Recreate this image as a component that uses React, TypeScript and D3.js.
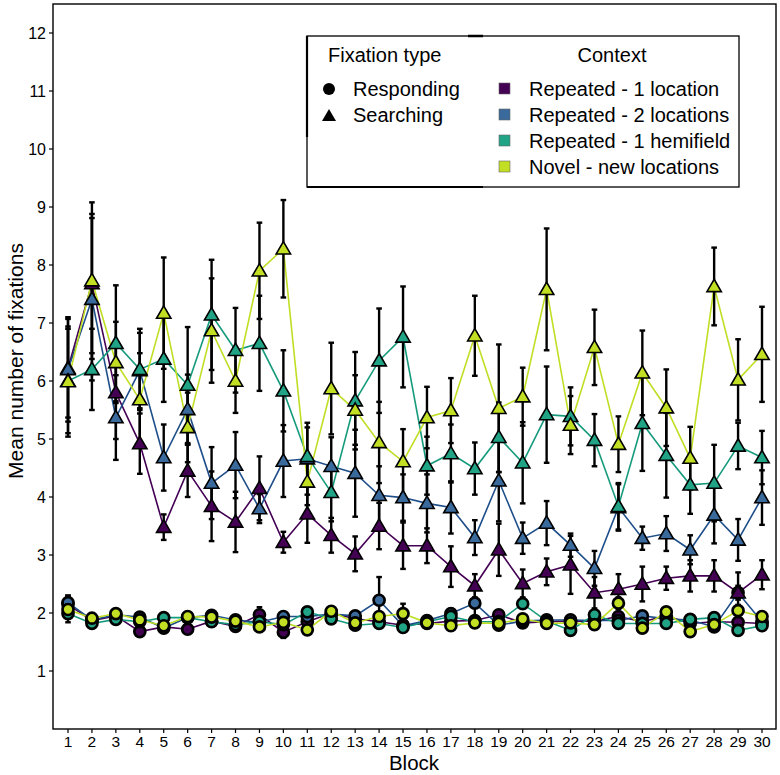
import * as d3 from 'd3';
import React from 'react';

// Blocks 1..30
const blocks: number[] = d3.range(1, 31);

const contexts: string[] = [
    'Repeated - 1 location',
    'Repeated - 2 locations',
    'Repeated - 1 hemifield',
    'Novel - new locations',
];
const fillColors: string[] = ['#440154', '#3a6a9c', '#21a386', '#c2df23'];
const lineColors: string[] = ['#440154', '#1f4f8a', '#169a7c', '#bfdf25'];

// Searching fixations: means and error half-widths, one array per context
const searchRep1: number[] = [6.22, 7.68, 5.8, 4.92, 3.48, 4.45, 3.84, 3.57, 4.15, 3.22, 3.71, 3.34, 3.02, 3.5, 3.16, 3.16, 2.8, 2.47, 3.09, 2.51, 2.71, 2.83, 2.35, 2.41, 2.5, 2.6, 2.64, 2.64, 2.35, 2.66];
const searchRep2: number[] = [6.2, 7.41, 5.37, 6.18, 4.68, 5.51, 4.24, 4.55, 3.8, 4.62, 4.66, 4.53, 4.41, 4.03, 3.99, 3.89, 3.82, 3.3, 4.28, 3.29, 3.55, 3.17, 2.77, 3.82, 3.29, 3.37, 3.09, 3.69, 3.26, 3.99];
const searchHemi: number[] = [6.0, 6.2, 6.65, 6.2, 6.38, 5.93, 7.14, 6.53, 6.65, 5.83, 4.7, 4.08, 5.66, 6.35, 6.76, 4.54, 4.75, 4.49, 5.03, 4.59, 5.42, 5.39, 4.98, 3.84, 5.27, 4.72, 4.21, 4.24, 4.88, 4.68];
const searchNovel: number[] = [5.99, 7.73, 6.32, 5.68, 7.17, 5.2, 6.87, 6.0, 7.9, 8.28, 4.26, 5.87, 5.5, 4.94, 4.61, 5.37, 5.49, 6.78, 5.53, 5.73, 7.58, 5.24, 6.58, 4.91, 6.14, 5.54, 4.67, 7.63, 6.02, 6.46];

const searchErrRep1: number[] = [0.85, 1.2, 0.8, 0.52, 0.22, 0.45, 0.6, 0.52, 0.55, 0.18, 0.5, 0.3, 0.3, 0.4, 0.4, 0.3, 0.35, 0.2, 0.45, 0.24, 0.23, 0.5, 0.27, 0.26, 0.3, 0.2, 0.27, 0.27, 0.35, 0.25];
const searchErrRep2: number[] = [0.9, 1.4, 0.73, 0.65, 0.57, 0.6, 0.62, 0.57, 0.25, 0.62, 0.62, 0.5, 0.75, 0.5, 0.4, 0.5, 0.45, 0.3, 0.7, 0.27, 0.38, 0.2, 0.3, 0.4, 0.2, 0.3, 0.25, 0.49, 0.36, 0.47];
const searchErrHemi: number[] = [0.9, 0.7, 1.0, 0.7, 0.74, 1.0, 0.95, 0.73, 0.82, 0.7, 0.5, 0.5, 0.84, 0.9, 0.87, 0.5, 0.5, 0.45, 0.6, 0.7, 0.83, 0.5, 0.45, 0.4, 0.82, 0.73, 0.5, 0.66, 0.4, 0.46];
const searchErrNovel: number[] = [0.95, 1.35, 0.7, 0.8, 0.96, 0.6, 0.9, 0.55, 0.83, 0.84, 0.4, 0.79, 0.6, 0.7, 0.56, 0.53, 0.56, 0.69, 1.1, 0.5, 1.05, 0.5, 0.65, 0.48, 0.73, 0.66, 0.54, 0.67, 0.7, 0.82];

// Responding fixations
const respRep1: number[] = [2.15, 1.87, 1.95, 1.68, 1.76, 1.72, 1.86, 1.77, 1.97, 1.67, 1.85, 2.0, 1.9, 1.85, 1.79, 1.82, 1.86, 1.87, 1.97, 1.83, 1.85, 1.86, 1.86, 1.94, 1.85, 1.95, 1.82, 1.85, 1.84, 1.82];
const respRep2: number[] = [2.18, 1.88, 1.97, 1.93, 1.74, 1.92, 1.96, 1.88, 1.84, 1.94, 1.94, 1.98, 1.95, 2.22, 1.78, 1.87, 1.99, 2.17, 1.79, 1.86, 1.88, 1.88, 1.87, 1.87, 1.95, 1.9, 1.88, 1.76, 2.35, 1.85];
const respHemi: number[] = [1.99, 1.82, 1.89, 1.85, 1.92, 1.92, 1.85, 1.8, 1.85, 1.8, 2.02, 1.9, 1.79, 1.82, 1.75, 1.85, 1.94, 1.85, 1.85, 2.16, 1.86, 1.7, 1.97, 1.82, 1.82, 1.82, 1.89, 1.92, 1.7, 1.78];
const respNovel: number[] = [2.06, 1.91, 1.99, 1.88, 1.78, 1.94, 1.93, 1.86, 1.76, 1.84, 1.71, 2.03, 1.83, 1.94, 1.99, 1.83, 1.78, 1.83, 1.82, 1.9, 1.82, 1.83, 1.8, 2.17, 1.74, 2.02, 1.68, 1.8, 2.04, 1.94];

const respErrRep1: number[] = [0.15, 0.06, 0.06, 0.07, 0.06, 0.07, 0.06, 0.06, 0.13, 0.1, 0.06, 0.06, 0.06, 0.06, 0.06, 0.06, 0.06, 0.06, 0.06, 0.06, 0.06, 0.06, 0.06, 0.06, 0.06, 0.06, 0.06, 0.06, 0.08, 0.06];
const respErrRep2: number[] = [0.12, 0.06, 0.06, 0.08, 0.06, 0.06, 0.06, 0.06, 0.06, 0.06, 0.06, 0.06, 0.06, 0.4, 0.06, 0.06, 0.08, 0.25, 0.06, 0.06, 0.06, 0.06, 0.06, 0.06, 0.06, 0.06, 0.06, 0.06, 0.12, 0.06];
const respErrHemi: number[] = [0.15, 0.06, 0.06, 0.06, 0.06, 0.06, 0.06, 0.06, 0.06, 0.06, 0.06, 0.06, 0.06, 0.06, 0.06, 0.06, 0.06, 0.06, 0.06, 0.08, 0.06, 0.06, 0.06, 0.06, 0.06, 0.06, 0.06, 0.06, 0.06, 0.06];
const respErrNovel: number[] = [0.15, 0.06, 0.06, 0.06, 0.06, 0.06, 0.06, 0.06, 0.06, 0.06, 0.06, 0.06, 0.06, 0.06, 0.17, 0.06, 0.06, 0.06, 0.06, 0.06, 0.06, 0.06, 0.06, 0.1, 0.06, 0.06, 0.06, 0.06, 0.1, 0.06];

const yTicks: number[] = d3.range(1, 13);

const searching = [searchRep1, searchRep2, searchHemi, searchNovel];
const searchingErr = [searchErrRep1, searchErrRep2, searchErrHemi, searchErrNovel];
const responding = [respRep1, respRep2, respHemi, respNovel];
const respondingErr = [respErrRep1, respErrRep2, respErrHemi, respErrNovel];

const width = 780;
const height = 775;
const panel = { left: 53, right: 776, top: 4, bottom: 729 };
const font = 'Liberation Sans, Arial, sans-serif';

const triangle = (cx: number, cy: number, s: number) =>
    `M${cx},${cy - s} L${cx + s},${cy + s * 0.72} L${cx - s},${cy + s * 0.72} Z`;

const App = (): React.ReactElement => {
    const x = d3.scaleLinear().domain([1, 30]).range([68, 762]);
    const y = d3.scaleLinear().domain([0, 12.5]).range([panel.bottom, panel.top]);

    const line = d3
        .line<number>()
        .x((_, i) => x(blocks[i]))
        .y((d) => y(d));

    // Vertical bar with small caps, one per block.
    const errorBars = (means: number[], errs: number[], key: string) =>
        means.map((m, i) => {
            const bx = x(blocks[i]);
            const y1 = y(m + errs[i]);
            const y2 = y(m - errs[i]);
            return (
                <g key={key + i} stroke="#000" strokeWidth={2.4}>
                    <line x1={bx} x2={bx} y1={y1} y2={y2} />
                    <line x1={bx - 2.8} x2={bx + 2.8} y1={y1} y2={y1} />
                    <line x1={bx - 2.8} x2={bx + 2.8} y1={y2} y2={y2} />
                </g>
            );
        });

    return (
        <svg
            width={width}
            height={height}
            style={{ position: 'absolute', left: 0, top: 0, background: '#fff' }}
            fontFamily={font}
        >
            <rect width={width} height={height} fill="#fff" />

            {/* lines */}
            {responding.map((s, c) => (
                <path key={'rl' + c} d={line(s) || ''} fill="none" stroke={lineColors[c]} strokeWidth={1.6} />
            ))}
            {searching.map((s, c) => (
                <path key={'sl' + c} d={line(s) || ''} fill="none" stroke={lineColors[c]} strokeWidth={1.6} />
            ))}

            {/* error bars */}
            {responding.map((s, c) => errorBars(s, respondingErr[c], 're' + c))}
            {searching.map((s, c) => errorBars(s, searchingErr[c], 'se' + c))}

            {/* points */}
            {responding.map((s, c) =>
                s.map((v, i) => (
                    <circle
                        key={'rp' + c + '-' + i}
                        cx={x(blocks[i])}
                        cy={y(v)}
                        r={5.5}
                        fill={fillColors[c]}
                        stroke="#000"
                        strokeWidth={2.7}
                    />
                )),
            )}
            {searching.map((s, c) =>
                s.map((v, i) => (
                    <path
                        key={'sp' + c + '-' + i}
                        d={triangle(x(blocks[i]), y(v), 7.2)}
                        fill={fillColors[c]}
                        stroke="#000"
                        strokeWidth={1.6}
                    />
                )),
            )}

            {/* panel border */}
            <rect
                x={panel.left}
                y={panel.top}
                width={panel.right - panel.left}
                height={panel.bottom - panel.top}
                fill="none"
                stroke="#000"
                strokeWidth={1.4}
            />

            {/* y axis */}
            {yTicks.map((t) => (
                <g key={'yt' + t}>
                    <line x1={panel.left - 4} x2={panel.left} y1={y(t)} y2={y(t)} stroke="#000" strokeWidth={1.2} />
                    <text x={panel.left - 7} y={y(t)} dy="0.35em" textAnchor="end" fontSize={16} fill="#000">
                        {t}
                    </text>
                </g>
            ))}

            {/* x axis */}
            {blocks.map((b) => (
                <g key={'xt' + b}>
                    <line x1={x(b)} x2={x(b)} y1={panel.bottom} y2={panel.bottom + 4} stroke="#000" strokeWidth={1.2} />
                    <text x={x(b)} y={747} textAnchor="middle" fontSize={15.5} fill="#000">
                        {b}
                    </text>
                </g>
            ))}

            <text x={414} y={770} textAnchor="middle" fontSize={20.5} fill="#000">
                Block
            </text>
            <text transform="translate(23, 361) rotate(-90)" textAnchor="middle" fontSize={21} fill="#000">
                Mean number of fixations
            </text>

            {/* legend */}
            <g>
                <rect x={307} y={36} width={432} height={151} fill="#fff" stroke="#000" strokeWidth={1.3} />
                <line x1={307} x2={483} y1={187} y2={187} stroke="#000" strokeWidth={2.2} />
                <line x1={307} x2={307} y1={36} y2={137} stroke="#000" strokeWidth={2.2} />
                <line x1={468} x2={483} y1={36} y2={36} stroke="#000" strokeWidth={2.5} />

                <text x={328} y={62} fontSize={20} fill="#000">
                    Fixation type
                </text>
                <circle cx={329} cy={89} r={6} fill="#000" />
                <text x={353} y={96} fontSize={20} fill="#000">
                    Responding
                </text>
                <path d={triangle(329, 116, 7)} fill="#000" />
                <text x={353} y={122} fontSize={20} fill="#000">
                    Searching
                </text>

                <text x={612} y={62} textAnchor="middle" fontSize={20} fill="#000">
                    Context
                </text>
                {contexts.map((name, i) => (
                    <g key={'lg' + i}>
                        <rect
                            x={499}
                            y={83 + i * 26}
                            width={11}
                            height={11}
                            fill={fillColors[i]}
                            stroke="#666"
                            strokeWidth={0.6}
                        />
                        <text x={529} y={96 + i * 26} fontSize={20} fill="#000">
                            {name}
                        </text>
                    </g>
                ))}
            </g>
        </svg>
    );
};

export default App;
